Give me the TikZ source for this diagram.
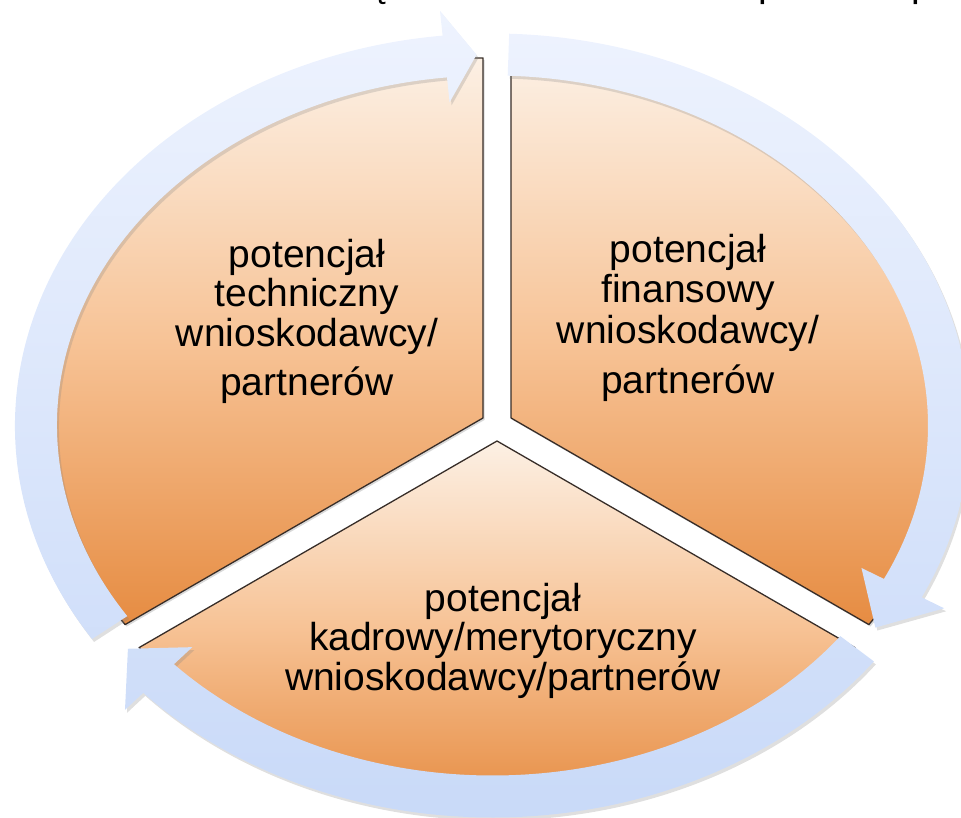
\documentclass[tikz,border=0pt]{standalone}
\usepackage{fontspec}
\setmainfont{Liberation Sans}
\usetikzlibrary{shadows,calc}
\definecolor{ringtop}{RGB}{238,243,254}
\definecolor{ringbot}{RGB}{200,217,248}
\definecolor{sectop}{RGB}{252,240,228}
\definecolor{secmid}{RGB}{247,195,150}
\definecolor{secbot}{RGB}{230,140,66}
\definecolor{secline}{RGB}{55,45,40}
\begin{document}
\begin{tikzpicture}[x=1pt,y=1pt,
  sector/.style={top color=sectop, bottom color=secbot, middle color=secmid,
    draw=secline, line width=1.3pt, line join=round,
    drop shadow={opacity=0.3, shadow xshift=1.5pt, shadow yshift=-2pt}},
  ringarrow/.style={top color=ringtop, bottom color=ringbot,
    drop shadow={opacity=0.25, shadow xshift=2pt, shadow yshift=-3pt}},
  lbl/.style={font=\fontsize{39}{40}\selectfont, anchor=base, inner sep=0pt, text=black}]
\useasboundingbox (0,0) rectangle (961,818);

% cut-off line at the top
\begin{scope}
\clip (0,0) rectangle (961,818);
\node[lbl, anchor=base west] (frag1) at (370,821) {ę};
\node[lbl, anchor=base west] (frag2) at (758.5,821) {p};
\node[lbl, anchor=base west] (frag3) at (911.5,821) {p};
\end{scope}

% sectors
\coordinate (cL) at (483,400);
\coordinate (cR) at (511,400);
\coordinate (cB) at (497,377);
\path[sector] (cL) -- ($(cL)+(90:437 and 360)$)
  arc[start angle=90, end angle=215.02, x radius=437, y radius=360] -- cycle;
\path[sector] (cR) -- ($(cR)+(-35.02:437 and 360)$)
  arc[start angle=-35.02, end angle=90, x radius=437, y radius=360] -- cycle;
\path[sector] (cB) -- ($(cB)+(215.02:437 and 360)$)
  arc[start angle=215.02, end angle=324.98, x radius=437, y radius=360] -- cycle;

% circular arrows
\coordinate (R) at (492.5,392.5);
\path[ringarrow]
  ($(R)+(213:477.5 and 392)$)
  arc[start angle=213, end angle=96, x radius=477.5, y radius=392]
  -- ($(R)+(96:502.5 and 417)$) -- ($(R)+(92:456.5 and 371)$)
  -- ($(R)+(96:410.5 and 325)$) -- ($(R)+(96:435.5 and 350)$)
  arc[start angle=96, end angle=213, x radius=435.5, y radius=350] -- cycle
  ($(R)+(88:477.5 and 392)$)
  arc[start angle=88, end angle=-26, x radius=477.5, y radius=392]
  -- ($(R)+(-26:502.5 and 417)$) -- ($(R)+(-33:456.5 and 371)$)
  -- ($(R)+(-26:410.5 and 325)$) -- ($(R)+(-26:435.5 and 350)$)
  arc[start angle=-26, end angle=88, x radius=435.5, y radius=350] -- cycle
  ($(R)+(-37:477.5 and 392)$)
  arc[start angle=-37, end angle=-137, x radius=477.5, y radius=392]
  -- ($(R)+(-137:502.5 and 417)$) -- ($(R)+(-143:456.5 and 371)$)
  -- ($(R)+(-137:410.5 and 325)$) -- ($(R)+(-137:435.5 and 350)$)
  arc[start angle=-137, end angle=-37, x radius=435.5, y radius=350] -- cycle;

% labels
\node[lbl] (l1) at (307,550) {potencjał};
\node[lbl] (l2) at (307,511) {techniczny};
\node[lbl] (l3) at (307,471) {wnioskodawcy/};
\node[lbl] (l4) at (307,422) {partnerów};
\node[lbl] (r1) at (688,555) {potencjał};
\node[lbl] (r2) at (688,515) {finansowy};
\node[lbl] (r3) at (688,474) {wnioskodawcy/};
\node[lbl] (r4) at (688,424) {partnerów};
\node[lbl] (b1) at (503,206) {potencjał};
\node[lbl] (b2) at (503,167) {kadrowy/merytoryczny};
\node[lbl] (b3) at (503,127) {wnioskodawcy/partnerów};
\end{tikzpicture}
\end{document}
